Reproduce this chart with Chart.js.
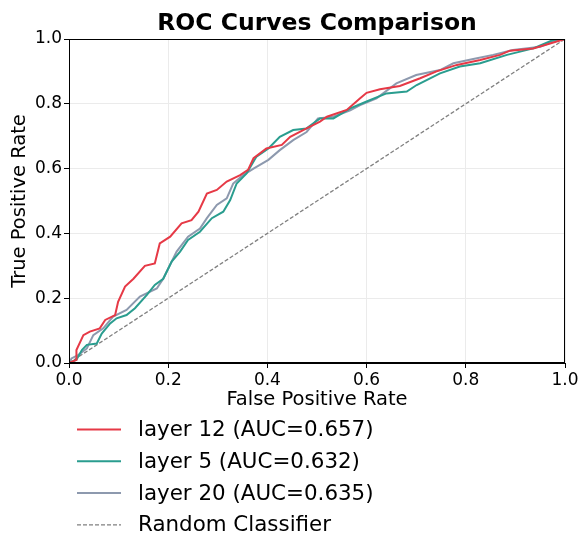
<!DOCTYPE html>
<html>
<head>
<meta charset="utf-8">
<script src="https://cdn.jsdelivr.net/npm/chart.js@4.4.0/dist/chart.umd.min.js"></script>
<style>
  html, body { margin: 0; padding: 0; background: #fff; }
  #wrap { width: 581px; height: 533px; }
</style>
</head>
<body>
<div id="wrap"><canvas id="rocChart" width="581" height="533"></canvas></div>
<script>
// Datos (curvas ROC)
const fprL12 = [0, 0.015, 0.015, 0.029, 0.042, 0.062, 0.073, 0.093, 0.099, 0.113, 0.13, 0.153, 0.173, 0.183, 0.204, 0.227, 0.247, 0.261, 0.278, 0.298, 0.318, 0.345, 0.361, 0.372, 0.398, 0.429, 0.446, 0.479, 0.506, 0.52, 0.56, 0.587, 0.60, 0.627, 0.667, 0.708, 0.741, 0.782, 0.829, 0.869, 0.889, 0.936, 0.97, 1.0];
const tprL12 = [0, 0.01, 0.04, 0.086, 0.097, 0.107, 0.133, 0.148, 0.189, 0.236, 0.26, 0.30, 0.307, 0.369, 0.39, 0.431, 0.441, 0.467, 0.523, 0.534, 0.56, 0.58, 0.596, 0.632, 0.662, 0.673, 0.698, 0.724, 0.745, 0.76, 0.781, 0.817, 0.834, 0.845, 0.855, 0.879, 0.90, 0.92, 0.935, 0.951, 0.964, 0.971, 0.986, 1.0];

const fprL5 = [0, 0.015, 0.026, 0.036, 0.056, 0.066, 0.083, 0.096, 0.116, 0.133, 0.157, 0.173, 0.19, 0.207, 0.224, 0.24, 0.264, 0.288, 0.311, 0.325, 0.338, 0.358, 0.378, 0.402, 0.425, 0.452, 0.479, 0.506, 0.533, 0.567, 0.60, 0.64, 0.681, 0.701, 0.748, 0.788, 0.829, 0.883, 0.936, 0.976, 1.0];
const tprL5 = [0, 0.01, 0.04, 0.056, 0.06, 0.091, 0.122, 0.138, 0.148, 0.169, 0.21, 0.241, 0.26, 0.313, 0.344, 0.38, 0.405, 0.447, 0.467, 0.503, 0.554, 0.585, 0.637, 0.662, 0.698, 0.719, 0.724, 0.755, 0.755, 0.786, 0.807, 0.832, 0.838, 0.858, 0.894, 0.915, 0.925, 0.951, 0.971, 0.997, 1.0];

const fprL20 = [0, 0.005, 0.019, 0.036, 0.049, 0.069, 0.089, 0.116, 0.143, 0.177, 0.19, 0.217, 0.24, 0.264, 0.278, 0.298, 0.318, 0.331, 0.351, 0.372, 0.402, 0.425, 0.452, 0.479, 0.502, 0.533, 0.567, 0.587, 0.62, 0.66, 0.70, 0.748, 0.775, 0.815, 0.855, 0.895, 0.95, 0.976, 1.0];
const tprL20 = [0, 0.014, 0.025, 0.045, 0.086, 0.107, 0.143, 0.164, 0.205, 0.23, 0.26, 0.344, 0.39, 0.415, 0.447, 0.488, 0.508, 0.554, 0.58, 0.60, 0.627, 0.657, 0.688, 0.713, 0.755, 0.76, 0.78, 0.796, 0.817, 0.863, 0.889, 0.904, 0.925, 0.938, 0.951, 0.966, 0.976, 0.992, 1.0];

const fprRandom = [0, 1];
const tprRandom = [0, 1];

const seriesLabels = ['layer 12 (AUC=0.657)', 'layer 5 (AUC=0.632)', 'layer 20 (AUC=0.635)', 'Random Classifier'];
const tickValues = [0, 0.2, 0.4, 0.6, 0.8, 1.0];

const FONT = "'DejaVu Sans', sans-serif";

function toPoints(xs, ys) {
    return xs.map((x, i) => ({ x: x, y: ys[i] }));
}

// Borde superior/derecho, título y leyenda a mano
const extrasPlugin = {
    id: 'extras',
    afterDraw(chart) {
        const ctx = chart.ctx;
        const a = chart.chartArea;
        ctx.save();
        ctx.strokeStyle = '#000';
        ctx.lineWidth = 1;
        ctx.strokeRect(a.left + 0.5, a.top + 0.5, a.right - a.left - 1, a.bottom - a.top - 1);

        ctx.fillStyle = '#000';
        ctx.font = 'bold 23.5px ' + FONT;
        ctx.textAlign = 'center';
        ctx.textBaseline = 'middle';
        ctx.fillText('ROC Curves Comparison', (a.left + a.right) / 2, 24);

        ctx.textAlign = 'left';
        ctx.font = '21.4px ' + FONT;
        chart.data.datasets.forEach((ds, i) => {
            const y = 429.5 + i * 31.8;
            ctx.beginPath();
            ctx.strokeStyle = ds.borderColor;
            ctx.lineWidth = ds.borderWidth;
            ctx.setLineDash(ds.borderDash || []);
            ctx.moveTo(77, y);
            ctx.lineTo(121, y);
            ctx.stroke();
            ctx.setLineDash([]);
            ctx.fillStyle = '#000';
            ctx.fillText(ds.label, 138, y + 1);
        });
        ctx.restore();
    }
};

Chart.defaults.color = '#000';
Chart.defaults.font.family = FONT;

new Chart(document.getElementById('rocChart').getContext('2d'), {
    type: 'line',
    data: {
        datasets: [
            { label: seriesLabels[0], data: toPoints(fprL12, tprL12), borderColor: '#E63946', borderWidth: 2 },
            { label: seriesLabels[1], data: toPoints(fprL5, tprL5), borderColor: '#2A9D8F', borderWidth: 2 },
            { label: seriesLabels[2], data: toPoints(fprL20, tprL20), borderColor: '#8D99AE', borderWidth: 2 },
            { label: seriesLabels[3], data: toPoints(fprRandom, tprRandom), borderColor: '#808080', borderWidth: 1.3, borderDash: [4, 2] }
        ]
    },
    options: {
        responsive: false,
        animation: false,
        layout: { padding: { top: 39, right: 16, bottom: 118, left: 0 } },
        elements: { point: { radius: 0 }, line: { tension: 0, fill: false } },
        plugins: {
            legend: { display: false },
            title: { display: false },
            tooltip: { enabled: false }
        },
        scales: {
            x: {
                type: 'linear',
                min: 0,
                max: 1,
                afterFit: function(scale) { scale.height = 52; },
                afterBuildTicks: function(scale) { scale.ticks = tickValues.map(v => ({ value: v })); },
                ticks: { font: { size: 17 }, padding: 2, callback: v => v.toFixed(1) },
                grid: { color: '#ebebeb', tickColor: '#000', tickLength: 5 },
                border: { color: '#000', width: 1 },
                title: { display: true, text: 'False Positive Rate', font: { size: 19.5 }, padding: { top: 0, bottom: 3 } }
            },
            y: {
                min: 0,
                max: 1,
                afterFit: function(scale) { scale.width = 69; },
                afterBuildTicks: function(scale) { scale.ticks = tickValues.map(v => ({ value: v })); },
                ticks: { font: { size: 17 }, padding: 2, callback: v => v.toFixed(1) },
                grid: { color: '#ebebeb', tickColor: '#000', tickLength: 5 },
                border: { color: '#000', width: 1 },
                title: { display: true, text: 'True Positive Rate', font: { size: 19.5 }, padding: { top: 8, bottom: 0 } }
            }
        }
    },
    plugins: [extrasPlugin]
});
</script>
</body>
</html>
